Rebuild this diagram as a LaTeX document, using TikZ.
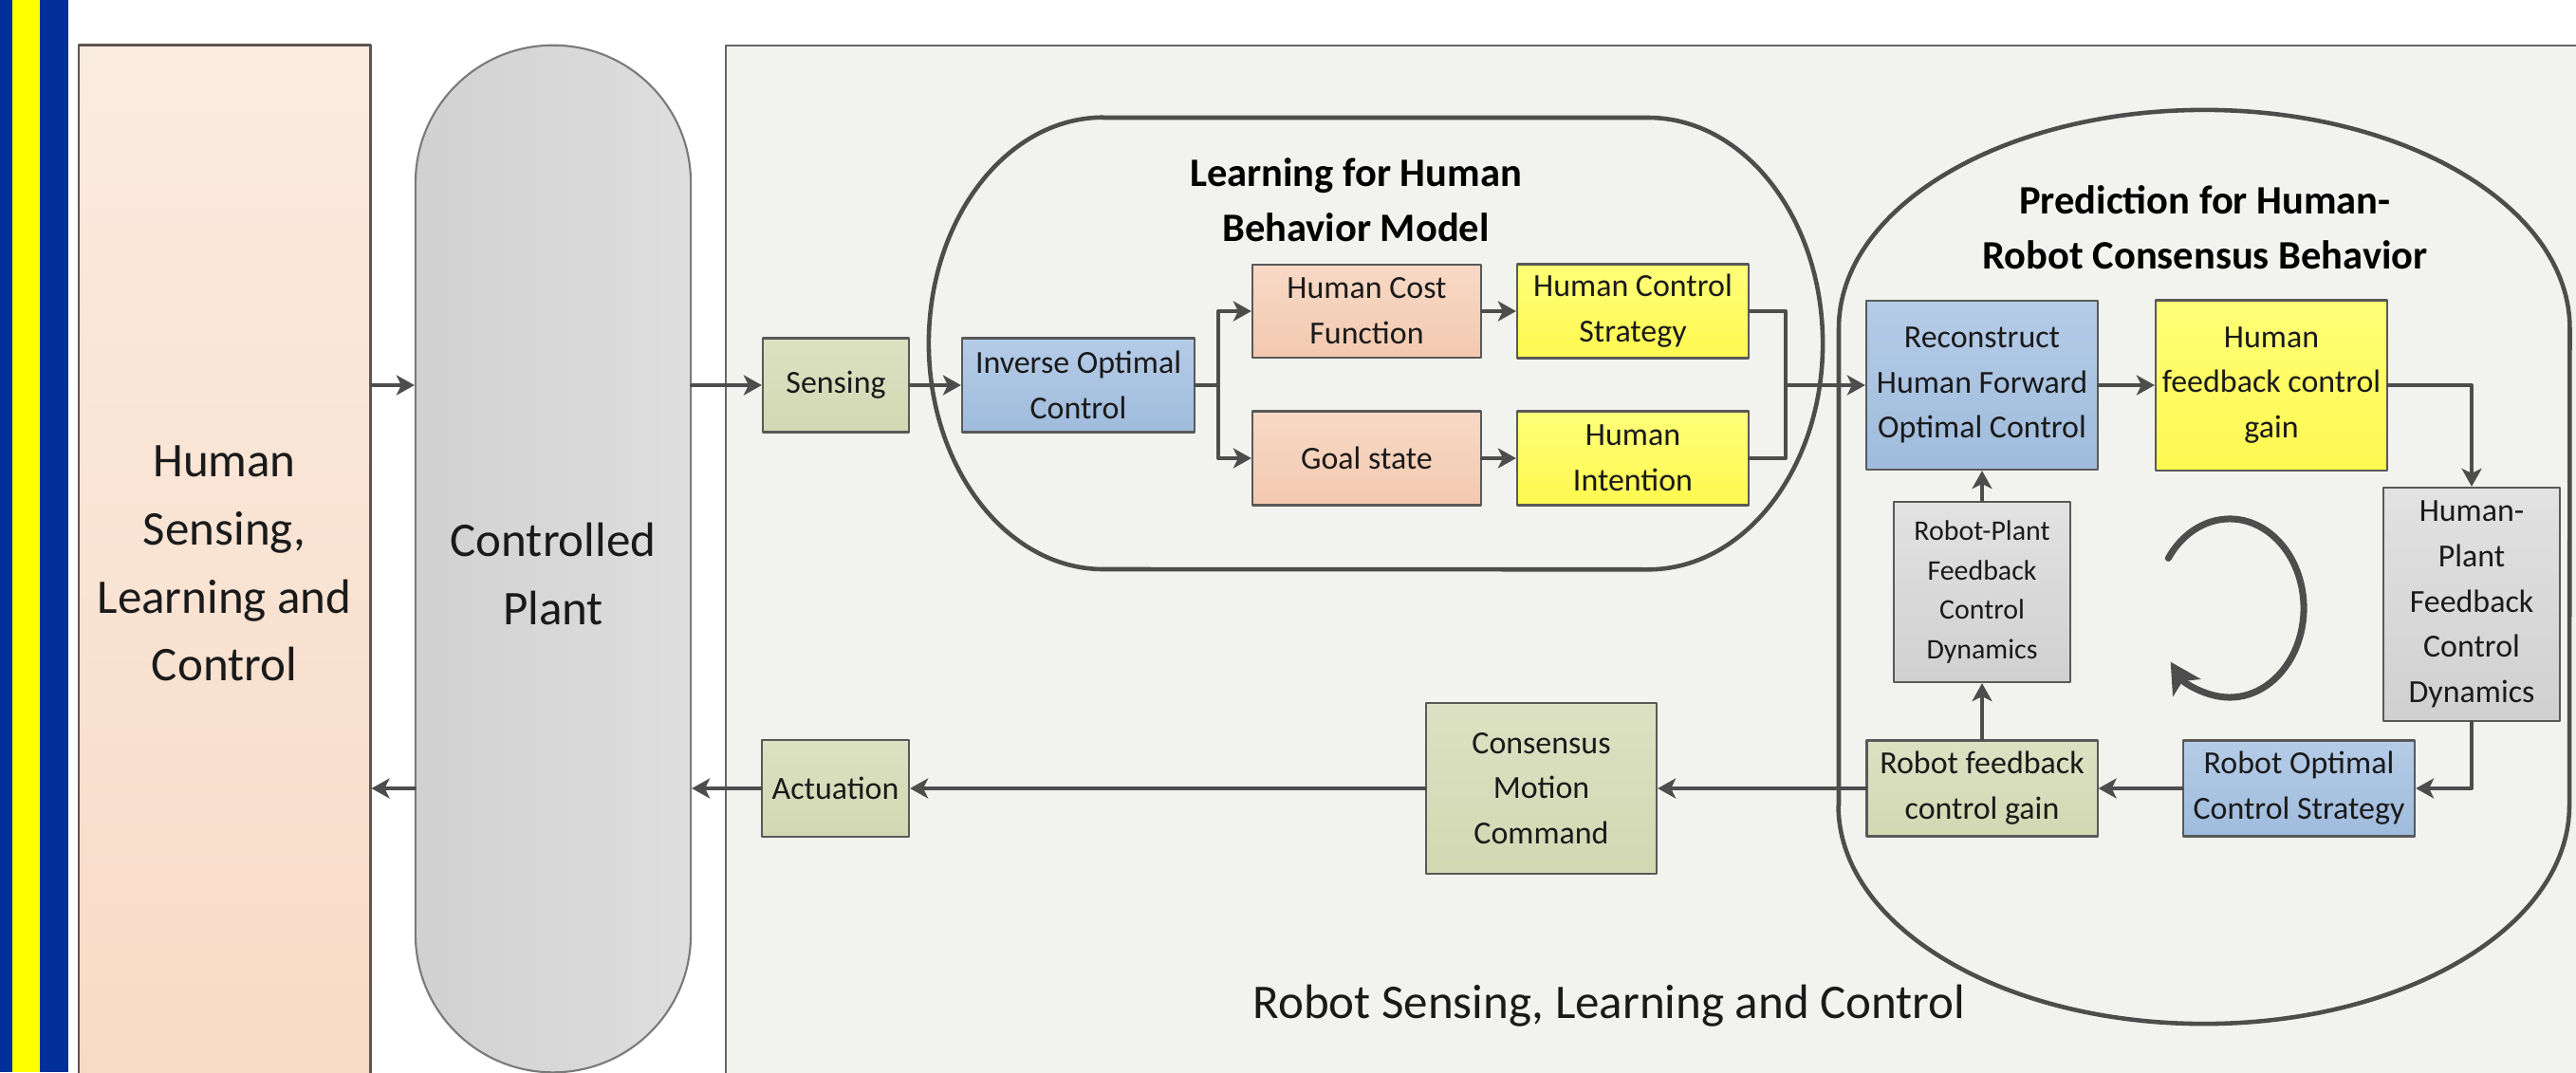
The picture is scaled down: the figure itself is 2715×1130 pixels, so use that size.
\documentclass[tikz,border=0pt]{standalone}
\usepackage{fontspec}
\setmainfont{Carlito}
\usetikzlibrary{arrows.meta}

\definecolor{stripeblue}{HTML}{002F9B}
\definecolor{stripeyellow}{HTML}{FFFF00}
\definecolor{humtop}{HTML}{FAEBE0}
\definecolor{humbot}{HTML}{F8DBC6}
\definecolor{humline}{HTML}{5E5450}
\definecolor{plantleft}{HTML}{D1D1D1}
\definecolor{plantright}{HTML}{DEDEDE}
\definecolor{plantline}{HTML}{7A7A7A}
\definecolor{robfill}{HTML}{F2F3EE}
\definecolor{robline}{HTML}{666666}
\definecolor{greentop}{HTML}{DCE1C3}
\definecolor{greenbot}{HTML}{D2D8B2}
\definecolor{bluetop}{HTML}{B5CCE7}
\definecolor{bluebot}{HTML}{9FBBDC}
\definecolor{peachtop}{HTML}{F8D9C6}
\definecolor{peachbot}{HTML}{F3C9AF}
\definecolor{yellowtop}{HTML}{FFFF78}
\definecolor{yellowbot}{HTML}{FFF850}
\definecolor{graytop}{HTML}{E2E2E2}
\definecolor{graybot}{HTML}{D0D0D0}
\definecolor{boxline}{HTML}{595959}
\definecolor{arrowgray}{HTML}{4D4D4D}
\definecolor{txtdark}{HTML}{1A1A1A}

\begin{document}
\begin{tikzpicture}[x=0.01cm,y=-0.01cm,line cap=round,line join=round,
  box/.style={draw=boxline,line width=0.6pt,align=center,inner sep=1pt,text=txtdark,
    font=\fontsize{9.65pt}{13.6pt}\selectfont},
  greenbox/.style={box,top color=greentop,bottom color=greenbot},
  bluebox/.style={box,top color=bluetop,bottom color=bluebot},
  peachbox/.style={box,top color=peachtop,bottom color=peachbot},
  yellowbox/.style={box,top color=yellowtop,bottom color=yellowbot},
  graybox/.style={box,top color=graytop,bottom color=graybot},
  bigtxt/.style={align=center,text=txtdark,font=\fontsize{14.5pt}{20.4pt}\selectfont},
  titletxt/.style={align=center,text=black,font=\fontsize{12.1pt}{16.4pt}\selectfont\bfseries},
  ring/.style={draw=arrowgray,line width=1.3pt},
  link/.style={draw=arrowgray,line width=1.15pt},
  conn/.style={link,-{Stealth[length=1.9mm,width=2.1mm,inset=0.5mm]}},
  cycarrow/.style={draw=arrowgray,line width=2pt,line cap=round,
    -{Stealth[length=3.2mm,width=3.4mm,inset=0.8mm]}}]
\useasboundingbox (0,0) rectangle (2715,1130);
\clip (0,0) rectangle (2715,1130);

% side stripes
\fill[stripeblue] (0,0) rectangle (72,1130);
\fill[stripeyellow] (13,0) rectangle (42,1130);

% the three columns
\node[draw=humline,line width=0.8pt,top color=humtop,bottom color=humbot,
  minimum width=3.07cm,minimum height=10.92cm,bigtxt] (human) at (236.5,594)
  {Human\\Sensing,\\Learning and\\Control};
\node[draw=plantline,line width=0.6pt,left color=plantleft,right color=plantright,
  rounded corners=1.449cm,minimum width=2.9cm,minimum height=10.82cm] (plant) at (583,589) {};
\node[bigtxt] (plttxt) at (583,605) {Controlled\\Plant};
\draw[draw=robline,fill=robfill,line width=0.8pt] (765,48) rectangle (2760,1160);
\node[bigtxt] (robtxt) at (1696,1060) {Robot Sensing, Learning and Control};

% learning and prediction groups
\draw[ring] (1163,124) -- (1737,124)
  arc[start angle=90,end angle=-90,x radius=1.84cm,y radius=2.38cm] -- (1163,600)
  arc[start angle=270,end angle=90,x radius=1.84cm,y radius=2.38cm] -- cycle;
\draw[ring] (1938,849) -- (1938,346)
  arc[start angle=180,end angle=0,x radius=3.85cm,y radius=2.3cm] -- (2708,849)
  arc[start angle=0,end angle=-180,x radius=3.85cm,y radius=2.3cm] -- cycle;
\node[titletxt] (lrntitle) at (1429,211) {Learning for Human\\Behavior Model};
\node[titletxt] (predtitle) at (2324,240) {Prediction for Human-\\Robot Consensus Behavior};

% blocks
\node[greenbox,minimum width=1.54cm,minimum height=0.99cm] (sens) at (881,406) {Sensing};
\node[bluebox,minimum width=2.45cm,minimum height=0.99cm] (ioc) at (1136.5,406) {Inverse Optimal\\Control};
\node[peachbox,minimum width=2.41cm,minimum height=0.98cm] (hcf) at (1440.5,328) {Human Cost\\Function};
\node[yellowbox,minimum width=2.44cm,minimum height=0.99cm] (hcs) at (1721,328) {Human Control\\Strategy};
\node[peachbox,minimum width=2.41cm,minimum height=0.99cm] (goal) at (1440.5,483) {Goal state};
\node[yellowbox,minimum width=2.44cm,minimum height=0.99cm] (hint) at (1721,483) {Human\\Intention};
\node[bluebox,minimum width=2.44cm,minimum height=1.78cm] (recon) at (2089,406) {Reconstruct\\Human Forward\\Optimal Control};
\node[yellowbox,minimum width=2.44cm,minimum height=1.79cm] (hfg) at (2394,406) {Human\\feedback control\\gain};
\node[graybox,minimum width=1.86cm,minimum height=2.46cm] (hplant) at (2605,637) {Human-\\Plant\\Feedback\\Control\\Dynamics};
\node[graybox,minimum width=1.86cm,minimum height=1.90cm,
  font=\fontsize{8.5pt}{11.9pt}\selectfont] (rplant) at (2089,624) {Robot-Plant\\Feedback\\Control\\Dynamics};
\node[greenbox,minimum width=2.43cm,minimum height=1.01cm] (rfg) at (2089,831) {Robot feedback\\control gain};
\node[bluebox,minimum width=2.44cm,minimum height=1.01cm] (rocs) at (2423,831) {Robot Optimal\\Control Strategy};
\node[greenbox,minimum width=2.43cm,minimum height=1.80cm] (cmc) at (1624.5,831) {Consensus\\Motion\\Command};
\node[greenbox,minimum width=1.55cm,minimum height=1.02cm] (act) at (880.5,831) {Actuation};
\coordinate (merge) at (1882,406);
\coordinate (cyc) at (2350,641);

% connectors
\draw[conn] (human.east |- sens) -- (plant.west |- sens);
\draw[conn] (plant.east |- sens) -- (sens);
\draw[conn] (sens) -- (ioc);
\draw[conn] (ioc.east) -- ++(24,0) |- (hcf);
\draw[conn] (ioc.east) -- ++(24,0) |- (goal);
\draw[conn] (hcf) -- (hcs);
\draw[conn] (goal) -- (hint);
\draw[link] (hcs.east) -| (merge) |- (hint.east);
\draw[conn] (merge) -- (recon);
\draw[conn] (recon) -- (hfg);
\draw[conn] (hfg.east) -| (hplant.north);
\draw[conn] (hplant.south) |- (rocs.east);
\draw[conn] (rocs) -- (rfg);
\draw[conn] (rfg.north) -- (rplant.south);
\draw[conn] (rplant.north) -- (recon.south);
\draw[conn] (rfg) -- (cmc);
\draw[conn] (cmc) -- (act);
\draw[conn] (act) -- (act -| plant.east);
\draw[conn] (plant.west |- act) -- (human.east |- act);
\draw[cycarrow] ([shift={(146:0.78cm and 0.94cm)}]cyc)
  arc[start angle=146,end angle=-143,x radius=0.78cm,y radius=0.94cm];
\end{tikzpicture}
\end{document}
